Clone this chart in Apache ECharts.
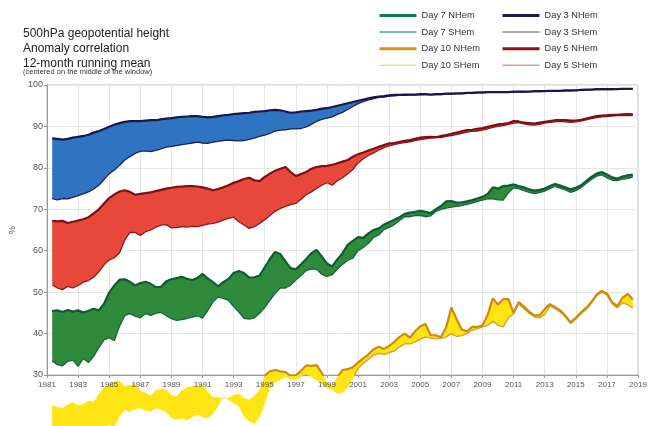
<!DOCTYPE html>
<html>
<head>
<meta charset="utf-8">
<script src="https://cdn.jsdelivr.net/npm/echarts@6/dist/echarts.min.js"></script>
<style>
  html, body { margin: 0; padding: 0; background: #ffffff; }
  #chart { width: 654px; height: 426px; }
</style>
</head>
<body>
<div id="chart"></div>
<script>
// 500 hPa geopotential height anomaly correlation, 12-month running mean.
// One value every four months, from 1981 (second third) to 2018 (last third).
const BASE_YEAR = 1981;
const sampleYears = Array.from({ length: 113 }, (_, i) => BASE_YEAR + (i + 1) / 3);

const xTickLabels = ['1981', '1983', '1985', '1987', '1989', '1991', '1993', '1995', '1997', '1999',
  '2001', '2003', '2005', '2007', '2009', '2011', '2013', '2015', '2017', '2019'];
const yTickLabels = ['30', '40', '50', '60', '70', '80', '90', '100'];

const day3NHem = [
  87.1, 87.0,
  86.8, 87.0, 87.3,  87.5, 87.7, 88.0,  88.5, 88.9, 89.4,  89.9, 90.4, 90.8,  91.1, 91.3, 91.3,
  91.3, 91.4, 91.5,  91.5, 91.7, 91.9,  92.0, 92.2, 92.3,  92.4, 92.5, 92.5,  92.3, 92.2, 92.3,
  92.5, 92.7, 92.8,  93.0, 93.1, 93.2,  93.3, 93.5, 93.6,  93.7, 93.9, 94.0,  93.9, 93.6, 93.3,
  93.4, 93.6, 93.7,  93.8, 94.0, 94.3,  94.4, 94.7, 95.0,  95.3, 95.6, 95.9,  96.2, 96.5, 96.8,
  97.0, 97.2, 97.3,  97.5, 97.6, 97.6,  97.7, 97.7, 97.7,  97.8, 97.8, 97.7,  97.8, 97.8, 97.9,
  97.9, 98.0, 98.0,  98.1, 98.1, 98.2,  98.2, 98.3, 98.3,  98.3, 98.3, 98.3,  98.4, 98.4, 98.4,
  98.4, 98.5, 98.5,  98.5, 98.6, 98.6,  98.6, 98.7, 98.7,  98.7, 98.8, 98.9,  98.9, 99.0, 99.0,
  99.0, 99.0, 99.0,  99.1, 99.1, 99.1
];
const day3SHem = [
  72.6, 72.3,
  72.6, 72.5, 72.9,  73.3, 73.7, 74.2,  74.9, 75.8, 77.2,  78.6, 79.5, 80.6,  81.9, 82.7, 83.5,
  84.0, 84.1, 83.9,  84.2, 84.6, 85.0,  85.2, 85.4, 85.6,  85.8, 86.0, 86.2,  86.0, 85.9, 86.2,
  86.4, 86.6, 86.7,  86.6, 86.5, 86.6,  86.9, 87.2, 87.6,  87.9, 88.3, 88.9,  89.1, 89.2, 89.4,
  89.4, 89.5, 89.9,  90.5, 91.2, 91.7,  92.0, 92.3, 92.9,  93.4, 94.1, 94.8,  95.5, 96.0, 96.4,
  96.7, 97.0, 97.1,  97.3, 97.4, 97.5,  97.5, 97.6, 97.6,  97.6, 97.7, 97.7,  97.7, 97.7, 97.8,
  97.8, 97.9, 97.9,  98.0, 98.0, 98.1,  98.1, 98.2, 98.2,  98.2, 98.2, 98.3,  98.3, 98.3, 98.3,
  98.4, 98.4, 98.4,  98.5, 98.5, 98.5,  98.6, 98.6, 98.6,  98.7, 98.7, 98.8,  98.8, 98.9, 98.9,
  98.9, 98.9, 99.0,  99.0, 99.0, 99.0
];
const day5NHem = [
  67.2, 67.1,
  67.2, 66.7, 67.0,  67.3, 67.6, 68.1,  69.0, 70.0, 71.4,  72.7, 73.6, 74.3,  74.6, 74.2, 73.5,
  73.7, 73.9, 74.1,  74.4, 74.7, 75.0,  75.2, 75.4, 75.5,  75.6, 75.6, 75.5,  75.3, 75.0, 74.6,
  74.9, 75.3, 75.8,  76.4, 76.8, 77.3,  77.6, 77.0, 76.8,  77.8, 78.6, 79.3,  79.8, 80.2, 79.0,
  78.0, 78.5, 79.0,  79.8, 80.2, 80.4,  80.5, 80.7, 81.1,  81.5, 81.9, 82.7,  83.3, 83.7, 84.2,
  84.6, 85.1, 85.5,  85.9, 86.0, 86.3,  86.5, 86.7, 87.0,  87.3, 87.4, 87.5,  87.4, 87.7, 87.9,
  88.2, 88.5, 88.8,  89.1, 89.2, 89.4,  89.6, 89.9, 90.2,  90.5, 90.6, 90.8,  91.3, 91.2, 90.9,
  90.8, 90.7, 90.9,  91.1, 91.3, 91.5,  91.5, 91.5, 91.4,  91.4, 91.6, 91.9,  92.2, 92.5, 92.6,
  92.7, 92.8, 92.8,  92.9, 93.0, 92.9
];
const day5SHem = [
  51.8, 51.0,
  50.6, 51.4, 51.0,  51.6, 52.4, 52.8,  53.6, 54.9, 56.6,  57.8, 58.3, 59.5,  62.6, 64.4, 64.4,
  63.7, 64.6, 65.0,  65.7, 66.2, 66.3,  65.5, 65.6, 65.8,  65.7, 65.9, 65.8,  66.1, 66.4, 66.6,
  66.9, 67.4, 67.8,  68.1, 67.0, 66.2,  65.4, 65.8, 66.6,  67.5, 68.5, 69.5,  70.2, 70.7, 71.1,
  71.4, 72.4, 73.5,  74.2, 75.0, 75.8,  76.4, 75.8, 76.9,  77.6, 78.6, 79.6,  81.2, 82.2, 83.0,
  83.6, 84.3, 84.9,  85.3, 85.6, 85.9,  86.1, 86.3, 86.6,  86.8, 87.0, 87.2,  87.3, 87.3, 87.6,
  87.8, 88.0, 88.3,  88.6, 88.8, 88.9,  89.1, 89.4, 89.8,  90.0, 90.2, 90.5,  90.8, 90.9, 90.6,
  90.4, 90.3, 90.5,  90.8, 91.0, 91.1,  91.2, 91.1, 91.0,  91.1, 91.3, 91.6,  91.9, 92.1, 92.3,
  92.4, 92.5, 92.6,  92.6, 92.7, 92.6
];
const day7NHem = [
  45.4, 45.6,
  45.2, 45.7, 45.3,  45.6, 45.1, 45.5,  46.0, 45.6, 47.2,  49.9, 51.6, 53.0,  53.1, 52.5, 51.6,
  52.2, 52.5, 52.0,  51.2, 51.3, 52.6,  53.1, 53.4, 53.7,  53.2, 52.9, 53.4,  54.4, 53.3, 52.4,
  51.4, 52.4, 53.2,  54.6, 55.1, 54.6,  53.5, 53.6, 54.0,  56.0, 58.0, 59.7,  59.2, 57.4, 55.8,
  55.5, 56.7, 58.0,  59.4, 60.2, 58.6,  56.9, 56.2, 57.9,  59.4, 61.4, 62.4,  63.3, 63.1, 64.2,
  65.0, 65.4, 66.3,  66.9, 67.5, 68.1,  68.9, 69.2, 69.4,  69.6, 69.4, 69.1,  70.0, 70.8, 71.9,
  72.0, 71.6, 71.7,  71.9, 72.2, 72.6,  73.0, 73.7, 75.3,  75.0, 75.6, 75.7,  76.0, 75.6, 75.3,
  74.8, 74.5, 74.7,  75.0, 75.6, 76.1,  75.7, 75.3, 74.8,  75.2, 75.8, 76.8,  77.8, 78.6, 79.0,
  78.4, 77.7, 77.4,  77.9, 78.2, 78.4
];
const day7SHem = [
  33.4, 32.5,
  32.2, 33.3, 33.6,  32.1, 34.0, 33.0,  34.5, 36.6, 38.5,  39.0, 38.3, 41.8,  44.3, 44.8, 44.2,
  43.8, 44.8, 44.4,  44.9, 45.1, 44.3,  43.6, 43.2, 43.4,  43.6, 44.0, 44.3,  43.7, 45.5, 47.6,
  48.8, 48.5, 48.0,  46.5, 45.2, 43.7,  43.5, 43.8, 44.9,  46.3, 48.0, 49.7,  51.0, 51.0, 51.7,
  52.9, 54.0, 55.2,  55.6, 55.5, 54.3,  53.8, 54.2, 55.6,  56.7, 57.7, 58.2,  60.0, 60.8, 61.8,
  63.2, 63.8, 65.1,  65.6, 66.3, 67.3,  68.2, 68.2, 68.5,  68.5, 68.2, 68.4,  69.5, 70.0, 70.3,
  70.5, 70.7, 70.9,  71.2, 71.5, 71.9,  72.2, 72.6, 72.5,  72.3, 72.2, 74.0,  75.2, 75.0, 74.5,
  74.1, 73.8, 74.0,  74.4, 75.0, 75.5,  75.1, 74.7, 74.1,  74.5, 75.2, 76.2,  77.2, 78.0, 78.3,
  77.6, 77.0, 76.9,  77.3, 77.4, 77.8
];
const day10NHem = [
  22.8, 22.3,
  22.0, 22.9, 23.4,  22.7, 23.0, 23.8,  23.5, 25.5, 27.0,  27.9, 28.3, 28.6,  27.3, 27.6, 27.9,
  26.2, 25.7, 25.0,  26.3, 26.6, 26.5,  25.2, 24.8, 26.3,  27.0, 27.3, 27.4,  27.6, 26.0, 24.7,
  24.6, 24.4, 24.5,  25.2, 25.5, 24.5,  24.0, 25.0, 26.5,  29.8, 30.9, 31.2,  30.9, 30.7, 29.8,
  29.9, 31.0, 32.3,  32.2, 32.4, 30.5,  28.3, 27.5, 29.5,  31.2, 31.4, 31.9,  33.0, 34.0, 35.0,
  36.2, 36.8, 36.3,  37.0, 38.0, 39.2,  40.0, 39.0, 40.6,  41.7, 42.3, 39.6,  39.6, 39.1, 41.5,
  46.3, 43.5, 41.0,  40.5, 41.6, 41.6,  42.0, 44.5, 48.5,  47.0, 48.3, 48.3,  45.0, 47.6, 46.5,
  45.3, 44.4, 44.4,  45.9, 47.1, 46.4,  45.6, 44.3, 42.7,  43.8, 45.1, 46.2,  47.6, 49.4, 50.3,
  49.7, 47.6, 46.6,  48.6, 49.6, 48.2
];
const day10SHem = [
  16.5, 17.0,
  16.0, 16.8, 16.2,  16.5, 16.0, 16.8,  17.0, 16.5, 17.0,  18.0, 17.5, 20.0,  21.6, 21.0, 21.8,
  22.0, 21.4, 21.2,  22.0, 21.6, 21.0,  19.6, 19.2, 19.5,  19.0, 19.8, 20.5,  19.8, 19.5, 20.6,
  22.4, 24.8, 24.0,  23.2, 22.4, 20.0,  18.8, 18.2, 19.8,  23.0, 26.8, 28.2,  28.8, 29.5, 29.0,
  28.8, 29.6, 30.0,  29.6, 28.7, 27.9,  26.8, 26.5, 25.5,  25.8, 27.0, 29.0,  31.6, 32.8, 33.8,
  34.8, 35.2, 35.0,  35.4, 35.8, 36.8,  37.5, 37.5, 38.0,  38.6, 39.2, 38.9,  38.7, 38.8, 39.2,
  40.0, 39.3, 39.5,  40.0, 40.8, 41.2,  41.6, 42.0, 43.0,  42.0, 41.6, 43.8,  44.8, 47.2, 46.0,
  44.9, 44.0, 43.8,  44.6, 46.6, 46.0,  45.2, 44.0, 42.4,  43.5, 44.8, 45.8,  47.3, 49.1, 50.0,
  49.3, 47.2, 46.2,  47.4, 47.0, 46.2
];

// Forecast ranges: the gap between the two hemispheres is shaded
const bands = [
  { day: 'Day 3',  nhem: day3NHem,  shem: day3SHem,  fill: '#2f74c0', line: '#17174c', thin: '#20205a', key: '#1c1c55', keyThin: '#8a8aa6' },
  { day: 'Day 5',  nhem: day5NHem,  shem: day5SHem,  fill: '#e8483a', line: '#7e0f14', thin: '#8a1a1c', key: '#8e1018', keyThin: '#e29a98' },
  { day: 'Day 7',  nhem: day7NHem,  shem: day7SHem,  fill: '#2f8a3c', line: '#0f5b34', thin: '#14673e', key: '#137a58', keyThin: '#4aa986' },
  { day: 'Day 10', nhem: day10NHem, shem: day10SHem, fill: '#ffe414', line: '#d08a12', thin: '#d99c26', key: '#d8950f', keyThin: '#eedf9e' }
];

const toPoints = vals => vals.map((v, i) => [sampleYears[i] - BASE_YEAR, v]);

const series = [];
bands.forEach(b => {
  series.push({
    type: 'custom',
    name: b.day + ' range',
    data: [0],
    silent: true,
    clip: false,
    z: 2,
    renderItem: (params, api) => {
      const points = [];
      b.nhem.forEach((v, i) => points.push(api.coord([sampleYears[i] - BASE_YEAR, v])));
      for (let i = b.shem.length - 1; i >= 0; i--) {
        points.push(api.coord([sampleYears[i] - BASE_YEAR, b.shem[i]]));
      }
      return { type: 'polygon', shape: { points: points }, style: { fill: b.fill, stroke: null } };
    }
  });
});
bands.forEach(b => {
  series.push({
    type: 'line', name: b.day + ' NHem', data: toPoints(b.nhem), symbol: 'none', z: 4,
    lineStyle: { color: b.line, width: 2.2 }, itemStyle: { color: b.line }
  });
  series.push({
    type: 'line', name: b.day + ' SHem', data: toPoints(b.shem), symbol: 'none', z: 3,
    lineStyle: { color: b.thin, width: 1.3 }, itemStyle: { color: b.thin }
  });
});

// Legend keys: heavy stroke for NHem, light stroke for SHem
const keyItems = days => {
  const items = [];
  days.forEach(d => {
    const b = bands.find(x => x.day === d);
    items.push({ name: d + ' NHem', lineStyle: { color: b.key, width: 3 } });
    items.push({ name: d + ' SHem', lineStyle: { color: b.keyThin, width: 1.5 } });
  });
  return items;
};

const FONT = 'Liberation Sans, Arial, Helvetica, sans-serif';
const legendCommon = {
  orient: 'vertical', top: 11, itemWidth: 37, itemHeight: 10, itemGap: 7.6, padding: 0,
  itemStyle: { opacity: 0 },
  textStyle: { fontSize: 9.3, color: '#333', fontFamily: FONT },
  selectedMode: false
};

const chart = echarts.init(document.getElementById('chart'), null, { renderer: 'canvas' });
chart.setOption({
  animation: false,
  backgroundColor: '#ffffff',
  textStyle: { fontFamily: FONT },
  title: [
    {
      text: '500hPa geopotential height\nAnomaly correlation\n12-month running mean',
      left: 23, top: 26, padding: 0,
      textStyle: { fontSize: 12, fontWeight: 'normal', color: '#222', lineHeight: 15, fontFamily: FONT }
    },
    {
      text: '(centered on the middle of the window)',
      left: 23, top: 68, padding: 0,
      textStyle: { fontSize: 7.5, fontWeight: 'normal', color: '#333', fontFamily: FONT }
    }
  ],
  legend: [
    Object.assign({ left: 378, data: keyItems(['Day 7', 'Day 10']) }, legendCommon),
    Object.assign({ left: 501, data: keyItems(['Day 3', 'Day 5']) }, legendCommon)
  ],
  grid: {
    left: 47, right: 16, top: 85, bottom: 51,
    show: true, borderColor: '#b8b8b8', borderWidth: 1, backgroundColor: 'transparent'
  },
  xAxis: [
    {
      type: 'value', min: 0, max: 38, interval: 2,
      axisLine: { show: true, lineStyle: { color: '#999' } },
      axisTick: { show: true, length: 3, lineStyle: { color: '#999' } },
      axisLabel: { show: false },
      splitLine: { show: true, lineStyle: { color: '#e6e6e6', width: 1 } }
    },
    {
      type: 'value', min: 0, max: 38, interval: 2, position: 'bottom', z: 10,
      axisLine: { show: false }, axisTick: { show: false }, splitLine: { show: false },
      axisLabel: {
        show: true, fontSize: 8, color: '#555', margin: 6,
        formatter: v => xTickLabels[Math.round(v / 2)]
      }
    }
  ],
  yAxis: {
    type: 'value', min: 30, max: 100, interval: 10,
    name: '%', nameLocation: 'middle', nameGap: 30,
    nameTextStyle: { fontSize: 9, color: '#555' },
    axisLine: { show: true, lineStyle: { color: '#999' } },
    axisTick: { show: true, length: 3, lineStyle: { color: '#999' } },
    axisLabel: {
      fontSize: 9, color: '#555', margin: 4,
      formatter: v => yTickLabels[Math.round((v - 30) / 10)]
    },
    splitLine: { show: true, lineStyle: { color: '#e6e6e6', width: 1 } }
  },
  series: series
});
</script>
</body>
</html>
